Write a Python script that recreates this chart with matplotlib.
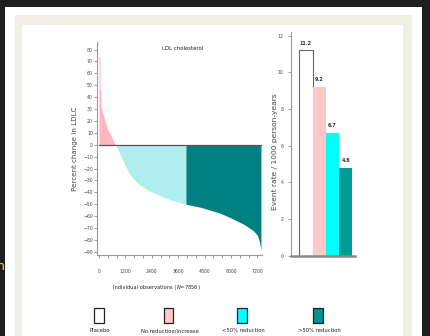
import matplotlib
matplotlib.use("Agg")
import matplotlib.pyplot as plt
from matplotlib.patches import Rectangle
from matplotlib.ticker import MultipleLocator

# waterfall of % change in LDL-C (sorted observations)
pink_x = [0, 45, 47, 85, 90, 130, 270, 420, 580, 730, 760]
pink_y = [74, 74, 47, 47, 32, 30, 20, 12, 6.5, 0.5, 0]
cyan_x = [760, 1010, 1200, 1390, 1600, 1840, 2200, 2590, 3000, 3340, 3950]
cyan_y = [0, -10.4, -18, -24.4, -29.5, -33.5, -38, -41.5, -44.5, -46.8, -50]
teal_x = [3950, 4650, 5500, 6000, 6600, 7000, 7200, 7300, 7340, 7360]
teal_y = [-50, -52.7, -57.5, -61.5, -67, -72, -76, -82, -86, -89]

groups = ["Placebo", "No reduction/increase", "<50% reduction", ">50% reduction"]
event_rate = [11.2, 9.2, 6.7, 4.8]
bar_colors = ["white", "#ffc8c8", "#00ffff", "#009b95"]
legend_colors = ["white", "#ffc8c8", "#00ffff", "#009090"]

W, H = 431, 336
NARROW = ["Liberation Sans Narrow", "DejaVu Sans"]


def fx(px):
    return px / W


def fy(py):
    return 1 - py / H


fig = plt.figure(figsize=(W / 100, H / 100), dpi=100, facecolor="#1e1e1e")

# page frame
for x0, y0, x1, col in [(5, 7, 422, "white"), (15, 15, 412, "#efefe4"), (22, 25, 403, "white")]:
    fig.patches.append(Rectangle((fx(x0), 0), fx(x1 - x0), fy(y0), transform=fig.transFigure,
                                 facecolor=col, edgecolor="none", zorder=-5))
fig.text(fx(5), fy(267), "n", color="#f0e040", fontsize=9, ha="right", va="center")

# left panel
ax = fig.add_axes([fx(97), fy(254.8), fx(165), 212.4 / H])
ax.set_zorder(3)
ax.fill_between(pink_x, 0, pink_y, color="#ffb6c1", lw=0)
ax.fill_between(cyan_x, 0, cyan_y, color="#afeeee", lw=0)
ax.fill_between(teal_x, 0, teal_y, color="#008080", lw=0)
ax.plot([0, teal_x[-1]], [0, 0], color="#555555", lw=0.9)
ax.set_xlim(-91, 7409)
ax.set_ylim(-92.5, 86)
ax.set_yticks(range(-90, 81, 10))
ax.xaxis.set_major_locator(MultipleLocator(1200))
ax.xaxis.set_minor_locator(MultipleLocator(400))
for s in ["top", "right"]:
    ax.spines[s].set_visible(False)
for s in ["left", "bottom"]:
    ax.spines[s].set_color("#999999")
    ax.spines[s].set_linewidth(0.8)
ax.tick_params(axis="y", length=2, width=0.5, color="#777777", pad=1, labelsize=3.3)
ax.tick_params(axis="x", which="both", length=2.5, width=0.5, color="#777777", pad=8, labelsize=3.3)
for lab in ax.get_xticklabels() + ax.get_yticklabels():
    lab.set_family(NARROW)
    lab.set_color("#444444")
ax.set_facecolor("none")
fig.text(fx(182.5), fy(48), "LDL cholesterol", family=NARROW, fontsize=3.9, ha="center", va="center", color="#222222")
fig.text(fx(75), fy(149), "Percent change in LDLC", rotation=90, fontsize=5.1, ha="center", va="center", color="#444444")
fig.text(fx(176), fy(287), "Individual observations (", family=NARROW, fontsize=3.7, ha="right", va="center", color="#222222")
fig.text(fx(176), fy(287), "$N$=7856)", family=NARROW, fontsize=3.7, ha="left", va="center", color="#222222")

# right panel
bx = fig.add_axes([fx(290.7), fy(255.7), fx(64.3), 223.7 / H])
bx.set_zorder(3)
bars = bx.bar(range(len(event_rate)), event_rate, width=1.0, color=bar_colors,
              edgecolor=["#666666", "none", "none", "none"], linewidth=0.8)
for b, v in zip(bars, event_rate):
    bx.text(b.get_x() + b.get_width() / 2, v + 0.25, f"{v:.1f}", ha="center", va="bottom",
            family=NARROW, fontsize=3.5, fontweight="bold", color="#333333")
bx.set_xlim(-1.15, 3.7)
bx.set_ylim(0, 12.2)
bx.set_yticks(range(0, 13, 2))
bx.set_xticks([])
for s in ["top", "right"]:
    bx.spines[s].set_visible(False)
bx.spines["left"].set_color("#999999")
bx.spines["left"].set_linewidth(0.8)
bx.spines["bottom"].set_color("#888888")
bx.spines["bottom"].set_linewidth(1.8)
bx.tick_params(axis="y", length=2, width=0.5, color="#777777", pad=3, labelsize=3.3)
for lab in bx.get_yticklabels():
    lab.set_family(NARROW)
    lab.set_color("#444444")
bx.set_facecolor("none")
fig.text(fx(275), fy(152), "Event rate / 1000 person-years", rotation=90, fontsize=5.4,
         ha="center", va="center", color="#444444")

# legend along the bottom
leg_x = [99, 168.7, 242, 318]
for cx, col, name in zip(leg_x, legend_colors, groups):
    fig.patches.append(Rectangle((fx(cx - 4.8), fy(322.5)), fx(9.6), 14.5 / H, transform=fig.transFigure,
                                 facecolor=col, edgecolor="#222222", lw=0.9))
    fig.text(fx(cx + 1), fy(330.8), name, family=NARROW, fontsize=3.8, ha="center", va="center", color="#222222")

fig.savefig("out.png", dpi=100, facecolor=fig.get_facecolor())
